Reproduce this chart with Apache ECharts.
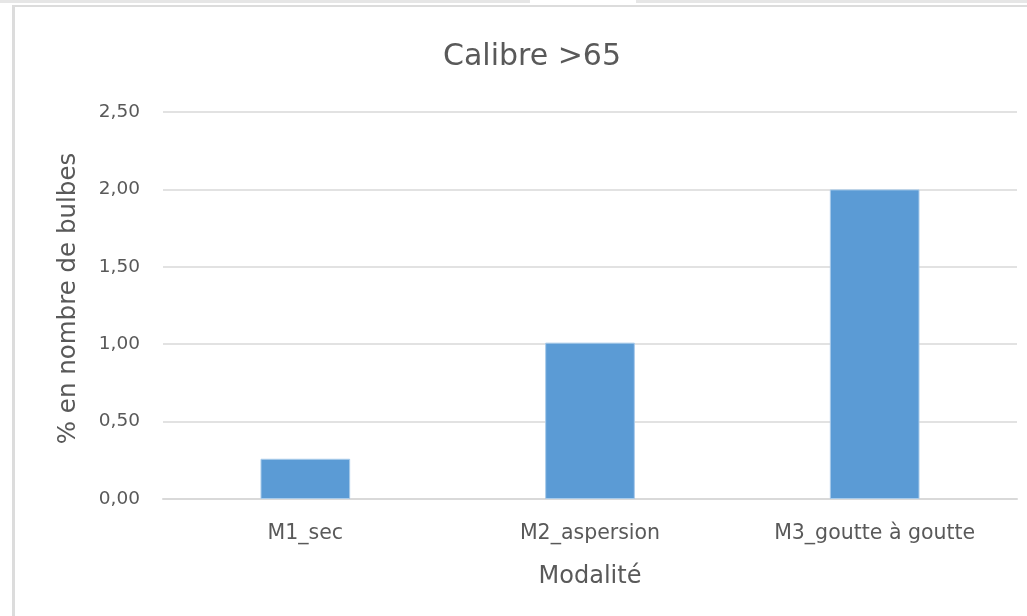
<!DOCTYPE html>
<html>
<head>
<meta charset="utf-8">
<script src="https://cdn.jsdelivr.net/npm/echarts@6/dist/echarts.min.js"></script>
<style>
  html, body { margin: 0; padding: 0; background: #ffffff; }
  #strip1 { position: absolute; left: 0; top: 0; width: 530px; height: 3px; background: #e6e6e6; }
  #strip2 { position: absolute; left: 636px; top: 0; width: 391px; height: 3px; background: #e6e6e6; }
  #frame { position: absolute; left: 12px; top: 5px; width: 1015px; height: 611px;
           border-left: 3px solid #dcdcdc; border-top: 2px solid #dcdcdc; box-sizing: border-box; }
  #chart { position: absolute; left: 0; top: 0; width: 1027px; height: 616px; }
</style>
</head>
<body>
<div id="strip1"></div>
<div id="strip2"></div>
<div id="frame"></div>
<div id="chart"></div>
<script>
  const categories = ['M1_sec', 'M2_aspersion', 'M3_goutte à goutte'];
  const values = [0.26, 1.01, 2.00];
  const titleText = 'Calibre >65';
  const yAxisName = '% en nombre de bulbes';
  const xAxisName = 'Modalité';

  const textColor = '#595959';
  const font = '"DejaVu Sans", sans-serif';

  const chart = echarts.init(document.getElementById('chart'), null, { renderer: 'canvas' });
  chart.setOption({
    backgroundColor: 'transparent',
    animation: false,
    title: {
      text: titleText,
      left: 527,
      top: 37,
      textAlign: 'center',
      textStyle: { color: textColor, fontSize: 30, fontWeight: 'normal', fontFamily: font }
    },
    grid: { left: 163, right: 10, top: 112, bottom: 117 },
    xAxis: {
      type: 'category',
      data: categories,
      name: xAxisName,
      nameLocation: 'middle',
      nameGap: 66,
      nameTextStyle: { color: textColor, fontSize: 24, fontFamily: font },
      axisLine: { show: true, lineStyle: { color: '#d9d9d9', width: 2 } },
      axisTick: { show: false },
      axisLabel: { color: textColor, fontSize: 20.5, fontFamily: font, margin: 24 }
    },
    yAxis: {
      type: 'value',
      min: 0,
      max: 2.5,
      interval: 0.5,
      name: yAxisName,
      nameLocation: 'middle',
      nameGap: 82,
      nameTextStyle: { color: textColor, fontSize: 24.5, fontFamily: font, padding: [0, 0, 0, 14] },
      axisLine: { show: false },
      axisTick: { show: false },
      splitLine: { lineStyle: { color: '#e2e2e2', width: 2 } },
      axisLabel: {
        color: textColor, fontSize: 18.5, fontFamily: font, margin: 23,
        formatter: v => v.toFixed(2).replace('.', ',')
      }
    },
    series: [{
      type: 'bar',
      data: values,
      barWidth: '31.5%',
      itemStyle: { color: '#5b9bd5', borderColor: '#a9cbea', borderWidth: 1 }
    }]
  });
</script>
</body>
</html>
